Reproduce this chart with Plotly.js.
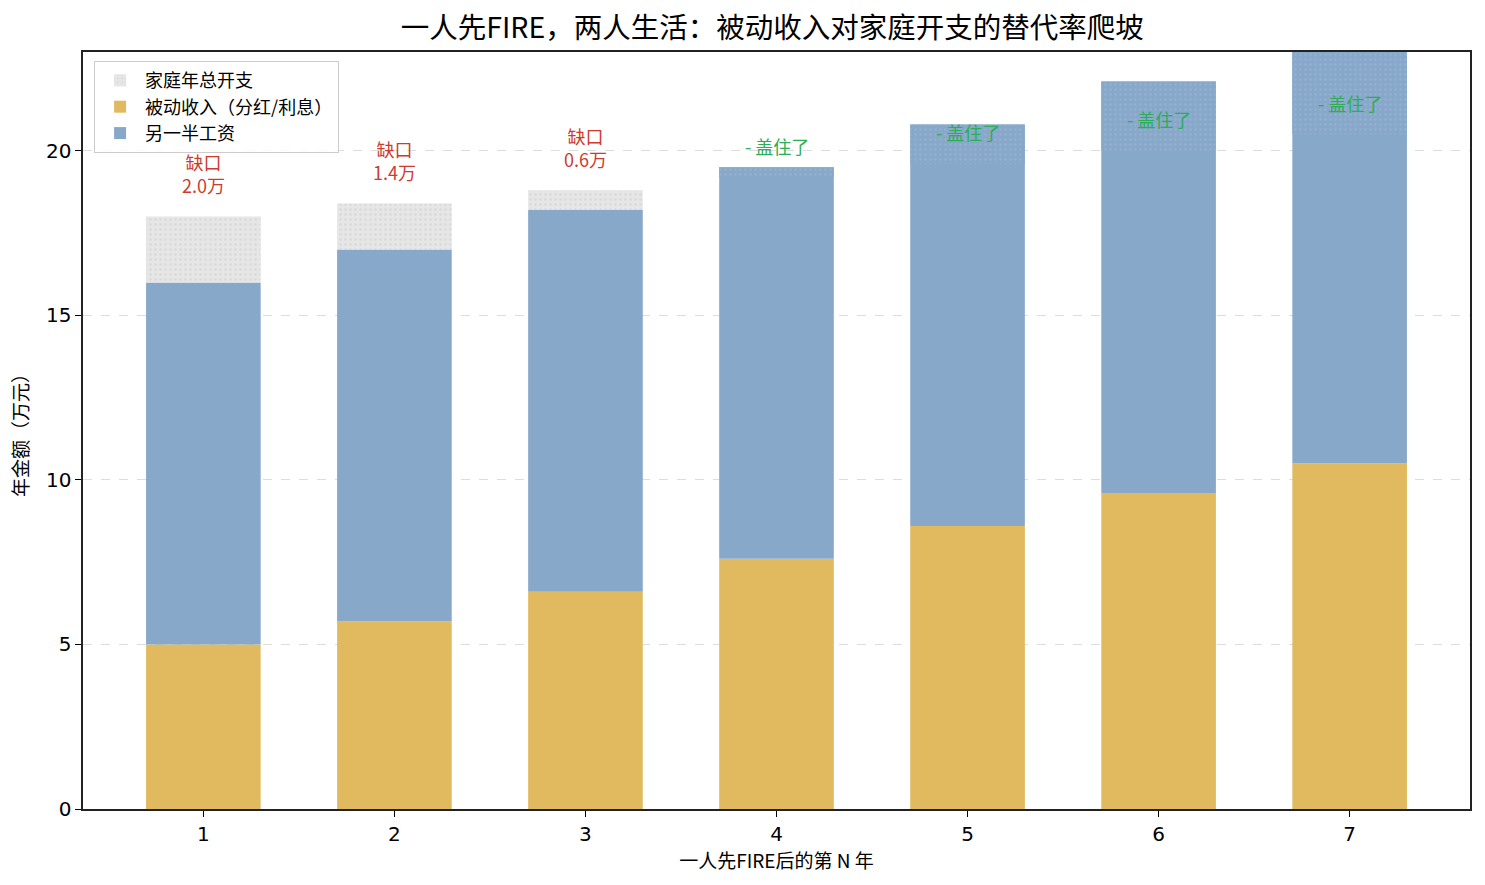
<!DOCTYPE html>
<html>
<head>
<meta charset="utf-8">
<script src="https://cdn.plot.ly/plotly-3.0.1.min.js"></script>
<style>
  html, body { margin: 0; padding: 0; background: #fff; }
  #chart { width: 1485px; height: 885px; }
</style>
</head>
<body>
<div id="chart"></div>
<script>
// years after one partner FIREs
const years = [1, 2, 3, 4, 5, 6, 7];
// 万元 per year
const passiveIncome = [5.0, 5.7, 6.6, 7.6, 8.6, 9.6, 10.5];
const partnerSalary = [11.0, 11.3, 11.6, 11.9, 12.2, 12.5, 12.8];
const householdExpense = [18.0, 18.4, 18.8, 19.2, 19.6, 20.0, 20.5];

const FONT = "Noto Sans CJK SC, DejaVu Sans, sans-serif";
const TICKFONT = "DejaVu Sans, sans-serif";
const GOLD = "#E1BA5F";
const BLUE = "#88A8CA";
const GRAY = "#E6E6E6";

const totals = years.map((_, i) => passiveIncome[i] + partnerSalary[i]);
const lower = years.map((_, i) => Math.min(totals[i], householdExpense[i]));
const shortfall = years.map((_, i) => Math.max(householdExpense[i] - totals[i], 0));
const surplus = years.map((_, i) => Math.max(totals[i] - householdExpense[i], 0));

const dots = (fg, op) => ({ shape: ".", size: 5, solidity: 0.18, fgcolor: fg, fgopacity: op, fillmode: "overlay" });

// grey, dotted part of the expense bar that income does not reach
const gapTrace = {
  type: "bar", name: "家庭年总开支", x: years, y: shortfall, base: lower,
  width: 0.6, legendrank: 1,
  marker: { color: GRAY, line: { width: 0 }, pattern: dots("#bdbdbd", 0.35) },
  hoverinfo: "skip"
};

// income above the expense line keeps a faint dotted texture
const surplusTrace = {
  type: "bar", name: "surplus", x: years, y: surplus, base: lower,
  width: 0.6, showlegend: false,
  marker: { color: BLUE, line: { width: 0 }, pattern: dots("#a9c0db", 0.35) },
  hoverinfo: "skip"
};

const passiveTrace = {
  type: "bar", name: "被动收入（分红/利息）", x: years, y: passiveIncome, base: years.map(() => 0),
  width: 0.6, legendrank: 2, marker: { color: GOLD, line: { width: 0 } }
};

const salaryTrace = {
  type: "bar", name: "另一半工资", x: years, y: partnerSalary, base: passiveIncome,
  width: 0.6, legendrank: 3, marker: { color: BLUE, line: { width: 0 } }
};

const annotations = years.map((yr, i) => {
  const gap = householdExpense[i] - totals[i];
  const short = gap > 0;
  return {
    x: yr, y: householdExpense[i] + 0.5, xref: "x", yref: "y",
    yanchor: "bottom", showarrow: false,
    text: short ? "缺口<br>" + gap.toFixed(1) + "万" : "- 盖住了",
    font: { family: FONT, size: 18, color: short ? "#CC3B2E" : "#2BAE55" },
    align: "center"
  };
});

const layout = {
  width: 1485, height: 885,
  margin: { l: 83, r: 15, t: 52, b: 76 },
  paper_bgcolor: "#fff", plot_bgcolor: "#fff",
  barmode: "overlay",
  font: { family: FONT, size: 16, color: "#000" },
  title: {
    text: "一人先FIRE，两人生活：被动收入对家庭开支的替代率爬坡",
    font: { family: FONT, size: 28.5, color: "#000" },
    x: 0.52, xanchor: "center", y: 0.968, yanchor: "middle"
  },
  xaxis: {
    range: [0.37, 7.63], tickvals: years, ticktext: years.map(String),
    ticks: "outside", ticklen: 6, tickcolor: "#000",
    showline: true, linecolor: "#222", linewidth: 1.6, mirror: true,
    showgrid: false, zeroline: false,
    tickfont: { family: TICKFONT, size: 20 },
    title: { text: "一人先FIRE后的第 N 年", font: { family: FONT, size: 19 }, standoff: 8 }
  },
  yaxis: {
    range: [0, 23], tickvals: [0, 5, 10, 15, 20],
    ticks: "outside", ticklen: 6, tickcolor: "#000",
    showline: true, linecolor: "#222", linewidth: 1.6, mirror: true,
    showgrid: true, gridcolor: "#dddddd", griddash: "dash", gridwidth: 1,
    zeroline: false,
    tickfont: { family: TICKFONT, size: 20 },
    title: { text: "年金额（万元）", font: { family: FONT, size: 19 }, standoff: 12 }
  },
  legend: {
    x: 0.008, y: 0.988, xanchor: "left", yanchor: "top",
    bgcolor: "rgba(255,255,255,0.85)", bordercolor: "#cccccc", borderwidth: 1,
    font: { family: FONT, size: 18 }, traceorder: "normal",
    itemwidth: 40, tracegroupgap: 0
  },
  annotations: annotations,
  showlegend: true
};

Plotly.newPlot("chart", [passiveTrace, salaryTrace, surplusTrace, gapTrace], layout, { displayModeBar: false, staticPlot: true });
</script>
</body>
</html>
